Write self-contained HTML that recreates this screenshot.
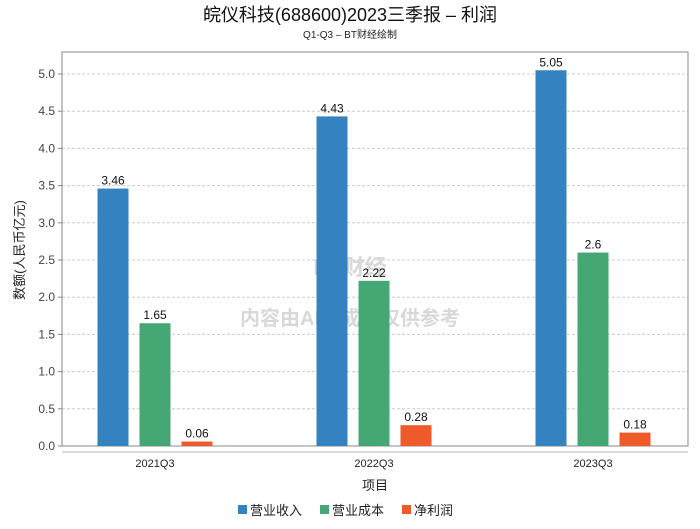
<!DOCTYPE html>
<html><head><meta charset="utf-8"><style>
body{margin:0;background:#fff;font-family:"Liberation Sans","Noto Sans CJK SC",sans-serif;}
svg text{font-family:"Liberation Sans","Noto Sans CJK SC",sans-serif;}
</style></head><body>
<svg id="c" width="700" height="524">
<text x="350" y="21" text-anchor="middle" font-size="18" fill="#111">皖仪科技(688600)2023三季报 – 利润</text>
<text x="350" y="38" text-anchor="middle" font-size="10" fill="#222">Q1-Q3 – BT财经绘制</text>
<g id="grid"></g>
<rect x="62" y="52" width="626" height="394" fill="none" stroke="#888"/>
<line x1="62" y1="452" x2="688" y2="452" stroke="#bbb"/>
<text x="350" y="275" text-anchor="middle" font-size="22" fill="#d8d8d8" font-weight="bold">BT财经</text>
<text x="350" y="325" text-anchor="middle" font-size="20" fill="#d8d8d8" font-weight="bold">内容由AI生成，仅供参考</text>
<g id="bars"></g>
<text x="24" y="250" text-anchor="middle" font-size="13" fill="#222" transform="rotate(-90 24 250)">数额(人民币亿元)</text>
<text x="375" y="490" text-anchor="middle" font-size="13" fill="#222">项目</text>
<g id="legend"></g>
</svg>
<script>
const categories=["2021Q3","2022Q3","2023Q3"];
const revenue=[3.46,4.43,5.05];
const cost=[1.65,2.22,2.6];
const profit=[0.06,0.28,0.18];
const yTicks=[0,0.5,1,1.5,2,2.5,3,3.5,4,4.5,5];
const seriesNames=["营业收入","营业成本","净利润"];
const colors=["#3582c1","#45a874","#ee5a2a"];
const NS="http://www.w3.org/2000/svg";
const y0=446,yPer=74.4,gx0=155,gStep=219;
const y=v=>y0-v*yPer;
function mk(t,a,p){const e=document.createElementNS(NS,t);for(const k in a)e.setAttribute(k,a[k]);p.appendChild(e);return e;}
const grid=document.getElementById('grid');
yTicks.forEach(t=>{
 if(t>0){const l=mk('line',{x1:62,x2:688,y1:y(t),y2:y(t),stroke:'#ccc','stroke-dasharray':'3,2'},grid);
 
 }
 const tx=mk('text',{x:55,y:y(t)+4,'text-anchor':'end','font-size':12,fill:'#444'},grid);tx.textContent=t.toFixed(1);
 
 
 const tk=mk('line',{x1:58,x2:62,y1:y(t),y2:y(t),stroke:'#888'},grid);
 
 
});
const bars=document.getElementById('bars');
[revenue,cost,profit].forEach((s,si)=>{
 s.forEach((v,i)=>{
  const cx=gx0+i*gStep+(si-1)*42;
  const r=mk('rect',{x:cx-15.5,y:y(v),width:31,height:v*yPer,fill:colors[si]},bars);
  
  
  const t=mk('text',{x:cx,y:y(v)-4,'text-anchor':'middle','font-size':12,fill:'#111'},bars);t.textContent=String(v);
  
  
 });
});
categories.forEach((c,i)=>{
 const t=mk('text',{x:gx0+i*gStep,y:467,'text-anchor':'middle','font-size':11,fill:'#222'},bars);t.textContent=c;
 
 
});
const lg=document.getElementById('legend');
const lx=[238,320,402];
seriesNames.forEach((n,i)=>{
 const g=mk('g',{},lg);
 
 
 mk('rect',{x:lx[i],y:505,width:9,height:9,fill:colors[i]},g);
 const t=mk('text',{x:lx[i]+12,y:515,'font-size':13,fill:'#222'},g);t.textContent=n;
});
</script>
</body></html>
